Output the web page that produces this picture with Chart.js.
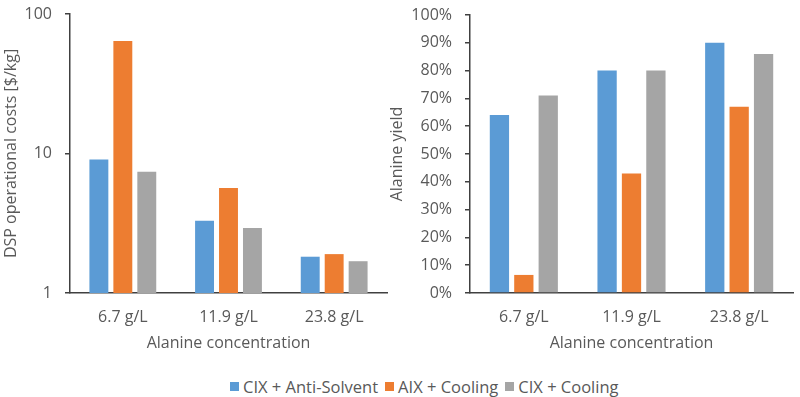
<!DOCTYPE html>
<html>
<head>
<meta charset="utf-8">
<script src="https://cdn.jsdelivr.net/npm/chart.js@4/dist/chart.umd.min.js"></script>
<style>
  body { margin: 0; background: #fff; }
  #wrap { position: relative; width: 800px; height: 397px; overflow: hidden; }
  #costWrap { position: absolute; left: 0; top: 0; width: 400px; height: 360px; }
  #yieldWrap { position: absolute; left: 380px; top: 0; width: 420px; height: 360px; }
  #legend {
    position: absolute; left: 230px; top: 375px;
    display: flex; align-items: center;
    font-family: 'Open Sans', sans-serif; font-size: 16.5px; color: #595959;
    white-space: nowrap;
  }
  #legend .item { display: flex; align-items: center; margin-right: 7px; }
  #legend .box { width: 9px; height: 9px; margin-right: 4px; }
</style>
</head>
<body>
<div id="wrap">
  <div id="costWrap"><canvas id="costChart" width="400" height="360"></canvas></div>
  <div id="yieldWrap"><canvas id="yieldChart" width="420" height="360"></canvas></div>
  <div id="legend"></div>
</div>
<script>
// Data
const concentrations = ['6.7 g/L', '11.9 g/L', '23.8 g/L'];
const seriesNames = ['CIX + Anti-Solvent', 'AIX + Cooling', 'CIX + Cooling'];
const seriesColors = ['#5b9bd5', '#ed7d31', '#a5a5a5'];

// DSP operational costs [$/kg]
const costAntiSolvent = [9.05, 3.3, 1.82];
const costAixCooling = [64, 5.66, 1.9];
const costCixCooling = [7.4, 2.92, 1.69];

// Alanine yield [%]
const yieldAntiSolvent = [64, 80, 90];
const yieldAixCooling = [6.5, 43, 67];
const yieldCixCooling = [71, 80, 86];

const costTicks = [1, 10, 100];

const textColor = '#595959';
const axisColor = '#404040';

Chart.defaults.font.family = "'Open Sans', sans-serif";
Chart.defaults.font.size = 16;
Chart.defaults.color = textColor;

function makeDatasets(values) {
  return values.map((data, i) => ({
    label: seriesNames[i],
    data: data,
    backgroundColor: seriesColors[i],
    borderWidth: 0,
    categoryPercentage: 0.68,
    barPercentage: 0.79
  }));
}

function xAxis() {
  return {
    grid: { display: false, drawTicks: false },
    border: { display: true, color: axisColor, width: 1.5 },
    ticks: { padding: 15, color: textColor },
    title: { display: true, text: 'Alanine concentration', color: textColor, padding: { top: 0, bottom: 7 } },
    afterFit: scale => { scale.height = 67; }
  };
}

// y scale keeps its own width, and its label padding must not push the plot down
function fixY(width) {
  return scale => {
    scale.width = width;
    scale.paddingTop = 0;
    scale.paddingBottom = 0;
  };
}

// Left chart: costs, log scale
new Chart(document.getElementById('costChart'), {
  type: 'bar',
  data: {
    labels: concentrations,
    datasets: makeDatasets([costAntiSolvent, costAixCooling, costCixCooling])
  },
  options: {
    responsive: false,
    animation: false,
    layout: { padding: { left: 0, top: 14, right: 13, bottom: 0 } },
    plugins: { legend: { display: false }, tooltip: { enabled: false } },
    scales: {
      x: xAxis(),
      y: {
        type: 'logarithmic',
        min: 1,
        max: 100,
        afterBuildTicks: scale => { scale.ticks = costTicks.map(v => ({ value: v })); },
        grid: { drawOnChartArea: false, drawTicks: true, tickLength: 5, color: axisColor, lineWidth: 1.5 },
        border: { display: true, color: axisColor, width: 1.5 },
        ticks: { padding: 13, color: textColor, callback: v => String(v) },
        title: { display: true, text: 'DSP operational costs [$/kg]', color: textColor, padding: { top: 2, bottom: 0 } },
        afterFit: fixY(70)
      }
    }
  }
});

// Right chart: yield
new Chart(document.getElementById('yieldChart'), {
  type: 'bar',
  data: {
    labels: concentrations,
    datasets: makeDatasets([yieldAntiSolvent, yieldAixCooling, yieldCixCooling])
  },
  options: {
    responsive: false,
    animation: false,
    layout: { padding: { left: 0, top: 15, right: 7, bottom: 0 } },
    plugins: { legend: { display: false }, tooltip: { enabled: false } },
    scales: {
      x: xAxis(),
      y: {
        min: 0,
        max: 100,
        grid: { drawOnChartArea: false, drawTicks: true, tickLength: 5, color: axisColor, lineWidth: 1.5 },
        border: { display: true, color: axisColor, width: 1.5 },
        ticks: { stepSize: 10, padding: 13, color: textColor, callback: v => v + '%' },
        title: { display: true, text: 'Alanine yield', color: textColor, padding: { top: 8, bottom: 0 } },
        afterFit: fixY(90)
      }
    }
  }
});

// Shared legend
const legend = document.getElementById('legend');
seriesNames.forEach((name, i) => {
  const item = document.createElement('div');
  item.className = 'item';
  item.innerHTML = `<span class="box" style="background:${seriesColors[i]}"></span><span>${name}</span>`;
  legend.appendChild(item);
});
</script>
</body>
</html>
